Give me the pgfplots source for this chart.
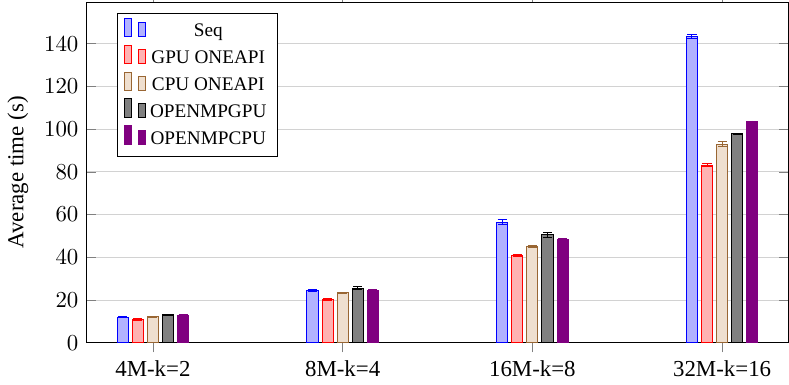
\documentclass[border={0pt 0pt 0pt -3.5pt}]{standalone}
\usepackage{pgfplots}
\pgfplotsset{compat=1.18}
\usepackage{fontspec}
\setmainfont{Liberation Serif}
\definecolor{mypurple}{RGB}{128,0,128}
\begin{document}
\begin{tikzpicture}
\begin{axis}[
  scale only axis,
  width=307pt, height=149pt,
  ybar=1.75pt, bar width=4.85pt,
  xmin=-0.35, xmax=3.35,
  ymin=0, ymax=159.5,
  xtick=data,
  xticklabels={4M-k=2,8M-k=4,16M-k=8,32M-k=16},
  ytick={0,20,40,60,80,100,120,140},
  ymajorgrids, grid style={gray!35},
  ylabel={Average time (s)},
  legend style={at={(0.043,0.968)}, anchor=north west, legend cell align=center,
    font=\fontsize{8.4}{10.5}\selectfont},
  error bars/y dir=both, error bars/y explicit,
]
\addplot[draw=blue, fill=blue!30, error bars/error bar style={blue}] coordinates {
 (0,12.0) +- (0,0.4) (1,24.5) +- (0,0.4) (2,56.5) +- (0,1.0) (3,143.5) +- (0,1.0)};
\addplot[draw=red, fill=red!30, error bars/error bar style={red}] coordinates {
 (0,10.8) +- (0,0.4) (1,20.3) +- (0,0.3) (2,40.7) +- (0,0.4) (3,83.2) +- (0,0.7)};
\addplot[draw=brown!80!black, fill=brown!25, error bars/error bar style={brown!80!black}] coordinates {
 (0,12.2) +- (0,0.3) (1,23.3) +- (0,0.4) (2,45.0) +- (0,0.6) (3,93.0) +- (0,1.2)};
\addplot[draw=black, fill=gray, error bars/error bar style={black}] coordinates {
 (0,13.0) +- (0,0.3) (1,25.5) +- (0,0.8) (2,50.5) +- (0,1.0) (3,97.8) +- (0,0.3)};
\addplot[draw=mypurple, fill=mypurple, error bars/error bar style={mypurple}] coordinates {
 (0,12.7) +- (0,0.3) (1,24.5) +- (0,0.3) (2,48.5) +- (0,0.2) (3,103.5) +- (0,0.3)};
\legend{Seq,GPU ONEAPI,CPU ONEAPI,OPENMPGPU,OPENMPCPU}
\end{axis}
\end{tikzpicture}
\end{document}
